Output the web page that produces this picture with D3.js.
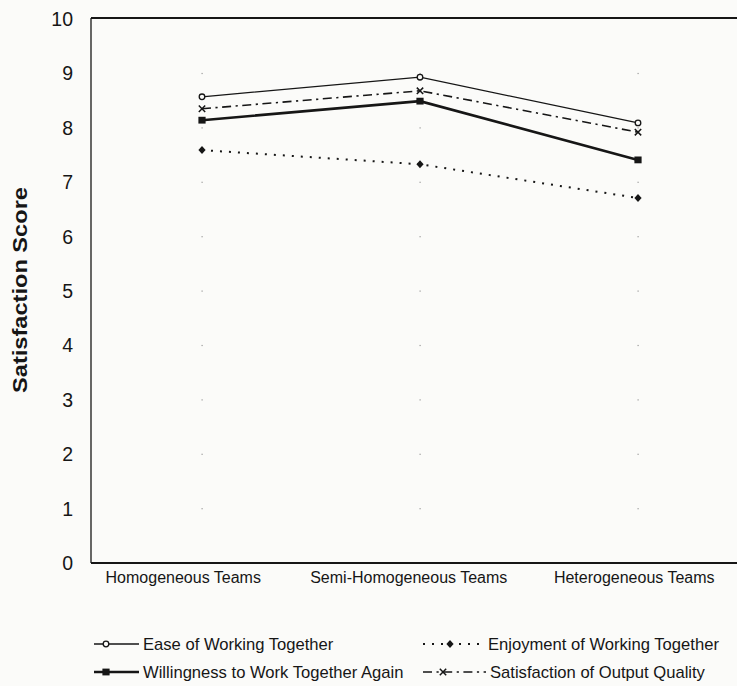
<!DOCTYPE html>
<html>
<head>
<meta charset="utf-8">
<script src="https://cdn.jsdelivr.net/npm/d3@7/dist/d3.min.js"></script>
<style>
  html, body { margin: 0; padding: 0; background: #fbfbf9; }
  svg { display: block; font-family: "Liberation Sans", Arial, Helvetica, sans-serif; }
</style>
</head>
<body>
<svg id="chart" width="737" height="686"></svg>
<script>
// ---- data ----
const categories = ["Homogeneous Teams", "Semi-Homogeneous Teams", "Heterogeneous Teams"];
const easeValues = [8.57, 8.93, 8.09];
const enjoymentValues = [7.59, 7.33, 6.71];
const willingnessValues = [8.14, 8.49, 7.41];
const satisfactionValues = [8.35, 8.68, 7.92];
const yTicks = [0, 1, 2, 3, 4, 5, 6, 7, 8, 9, 10];
const seriesNames = ["Ease of Working Together", "Enjoyment of Working Together",
                     "Willingness to Work Together Again", "Satisfaction of Output Quality"];
const yTitle = "Satisfaction Score";

(function () {
// ---- layout ----
const svg = d3.select("#chart");
const pLeft = 91, pTop = 18, pBottom = 563, pRight = 737;
const ink = "#161616";

const x = d3.scaleBand().domain(categories).range([93, 747]);
const xLabel = d3.scaleBand().domain(categories).range([70.5, 747]);
const y = d3.scaleLinear().domain([0, 10]).range([pBottom, pTop + 1]);
const cx = d => x(d) + x.bandwidth() / 2;

// faint grid dots
const g0 = svg.append("g");
categories.forEach(c => {
  yTicks.slice(1, 10).forEach(t => {
    g0.append("rect").attr("x", cx(c) - 0.5).attr("y", y(t) - 0.5)
      .attr("width", 1.2).attr("height", 1.2).attr("fill", "#9a9a9a");
  });
});

// frame
svg.append("line").attr("x1", pLeft).attr("x2", pLeft).attr("y1", pTop).attr("y2", pBottom)
  .attr("stroke", ink).attr("stroke-width", 1.3);
svg.append("line").attr("x1", pLeft).attr("x2", pRight).attr("y1", pTop).attr("y2", pTop)
  .attr("stroke", ink).attr("stroke-width", 1.8);
svg.append("line").attr("x1", pLeft).attr("x2", pRight).attr("y1", pBottom).attr("y2", pBottom)
  .attr("stroke", ink).attr("stroke-width", 2);

// y tick labels
svg.append("g").selectAll("text").data(yTicks).join("text")
  .attr("x", 73).attr("y", d => y(d)).attr("dy", "0.36em")
  .attr("text-anchor", "end").attr("font-size", 19.5).attr("fill", ink)
  .text(d => d);

// y title
svg.append("text")
  .attr("transform", `translate(27,290) rotate(-90)`)
  .attr("text-anchor", "middle").attr("font-size", 20.5).attr("font-weight", "bold")
  .attr("textLength", 206).attr("lengthAdjust", "spacingAndGlyphs")
  .attr("fill", ink).text(yTitle);

// x labels
svg.append("g").selectAll("text").data(categories).join("text")
  .attr("x", d => xLabel(d) + xLabel.bandwidth() / 2).attr("y", 583)
  .attr("text-anchor", "middle").attr("font-size", 16).attr("fill", ink)
  .text(d => d);

// series styles
const styles = [
  { values: easeValues, width: 1.3, dash: null, marker: "circle" },
  { values: enjoymentValues, width: 2, dash: "2,7", marker: "diamond" },
  { values: willingnessValues, width: 2.6, dash: null, marker: "square" },
  { values: satisfactionValues, width: 1.6, dash: "9,4.5,2.2,4.5", marker: "cross" }
];

const line = d3.line().x(d => cx(d.c)).y(d => y(d.v));

function drawMarker(g, type, px, py) {
  if (type === "circle") {
    g.append("circle").attr("cx", px).attr("cy", py).attr("r", 2.8)
      .attr("fill", "#fbfbf9").attr("stroke", ink).attr("stroke-width", 1.3);
  } else if (type === "diamond") {
    g.append("path").attr("d", `M${px},${py-4}L${px+3.6},${py}L${px},${py+4}L${px-3.6},${py}Z`)
      .attr("fill", ink);
  } else if (type === "square") {
    g.append("rect").attr("x", px - 3.6).attr("y", py - 3.4).attr("width", 7.2).attr("height", 6.8)
      .attr("fill", ink);
  } else if (type === "cross") {
    g.append("path").attr("d", `M${px-3.2},${py-3.2}L${px+3.2},${py+3.2}M${px+3.2},${py-3.2}L${px-3.2},${py+3.2}`)
      .attr("stroke", ink).attr("stroke-width", 1.5).attr("fill", "none");
  }
}

const gs = svg.append("g");
styles.forEach(s => {
  const pts = categories.map((c, i) => ({ c, v: s.values[i] }));
  gs.append("path").datum(pts).attr("d", line)
    .attr("fill", "none").attr("stroke", ink).attr("stroke-width", s.width)
    .attr("stroke-dasharray", s.dash);
  pts.forEach(p => drawMarker(gs, s.marker, cx(p.c), y(p.v)));
});

// legend
const legendItems = [
  { s: 0, x1: 94, x2: 139, mx: 106, tx: 143, ly: 644, ty: 650 },
  { s: 1, x1: 423, x2: 485, mx: 450, tx: 488, ly: 644, ty: 650 },
  { s: 2, x1: 94, x2: 139, mx: 106, tx: 143, ly: 672, ty: 678 },
  { s: 3, x1: 423, x2: 486, mx: 443, tx: 490, ly: 672, ty: 678 }
];
const gl = svg.append("g");
legendItems.forEach(it => {
  const s = styles[it.s];
  gl.append("line").attr("x1", it.x1).attr("x2", it.x2).attr("y1", it.ly).attr("y2", it.ly)
    .attr("stroke", ink).attr("stroke-width", s.width).attr("stroke-dasharray", s.dash);
  drawMarker(gl, s.marker, it.mx, it.ly);
  gl.append("text").attr("x", it.tx).attr("y", it.ty).attr("font-size", 16.6)
    .attr("fill", ink).text(seriesNames[it.s]);
});
})();
</script>
</body>
</html>
